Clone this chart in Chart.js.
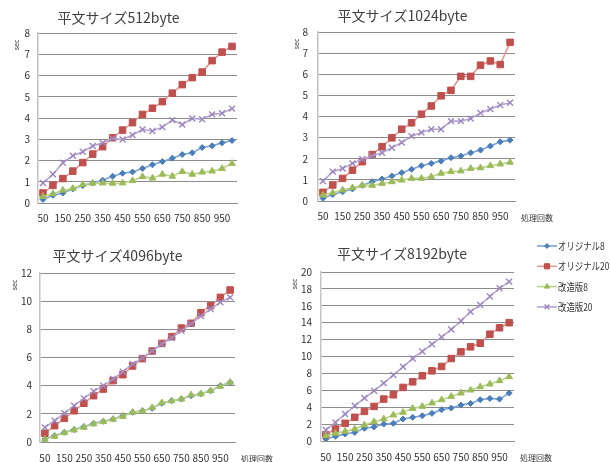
<!DOCTYPE html>
<html>
<head>
<meta charset="utf-8">
<title>平文サイズ別 処理時間</title>
<style>
  body { margin: 0; background: #fff; }
  canvas { position: absolute; }
</style>
<script src="https://cdn.jsdelivr.net/npm/chart.js@4.4.0/dist/chart.umd.min.js"></script>
</head>
<body>
<canvas id="c512" style="left:0px;top:0px" width="300" height="231"></canvas>
<canvas id="c1024" style="left:290px;top:0px" width="320" height="231"></canvas>
<canvas id="c4096" style="left:0px;top:231px" width="300" height="231"></canvas>
<canvas id="c8192" style="left:290px;top:231px" width="320" height="231"></canvas>

<script>
// 処理回数 (x axis)
const counts = [50, 100, 150, 200, 250, 300, 350, 400, 450, 500,
                550, 600, 650, 700, 750, 800, 850, 900, 950, 1000];
const seriesNames = ['オリジナル8', 'オリジナル20', '改造版8', '改造版20'];

// sec, 平文サイズ512byte
const orig8_512  = [0.17, 0.36, 0.47, 0.66, 0.82, 0.94, 1.07, 1.26, 1.40, 1.46, 1.62, 1.80, 1.95, 2.11, 2.28, 2.36, 2.61, 2.69, 2.83, 2.94];
const orig20_512 = [0.47, 0.83, 1.15, 1.50, 1.90, 2.30, 2.65, 3.07, 3.43, 3.78, 4.17, 4.46, 4.77, 5.17, 5.57, 5.90, 6.16, 6.70, 7.10, 7.37];
const kai8_512   = [0.31, 0.44, 0.60, 0.68, 0.87, 0.93, 0.94, 0.93, 0.94, 1.05, 1.24, 1.17, 1.35, 1.26, 1.48, 1.35, 1.45, 1.50, 1.62, 1.86];
const kai20_512  = [0.94, 1.35, 1.89, 2.22, 2.41, 2.68, 2.83, 3.04, 2.99, 3.20, 3.46, 3.39, 3.57, 3.90, 3.69, 3.98, 3.94, 4.17, 4.22, 4.44];

// 平文サイズ1024byte
const orig8_1024  = [0.13, 0.31, 0.44, 0.57, 0.74, 0.91, 1.04, 1.18, 1.34, 1.50, 1.67, 1.78, 1.89, 2.05, 2.13, 2.28, 2.41, 2.60, 2.80, 2.88];
const orig20_1024 = [0.41, 0.76, 1.07, 1.46, 1.86, 2.20, 2.57, 2.99, 3.40, 3.70, 4.11, 4.50, 4.98, 5.24, 5.90, 5.90, 6.43, 6.63, 6.46, 7.51];
const kai8_1024   = [0.28, 0.39, 0.52, 0.63, 0.74, 0.74, 0.83, 0.91, 0.99, 1.07, 1.07, 1.15, 1.31, 1.39, 1.42, 1.54, 1.57, 1.67, 1.75, 1.83];
const kai20_1024  = [0.94, 1.39, 1.54, 1.78, 1.98, 2.14, 2.28, 2.52, 2.77, 3.07, 3.24, 3.40, 3.40, 3.78, 3.78, 3.90, 4.17, 4.35, 4.54, 4.65];

// 平文サイズ4096byte
const orig8_4096  = [0.21, 0.45, 0.69, 0.88, 1.09, 1.33, 1.47, 1.63, 1.87, 2.11, 2.22, 2.39, 2.75, 2.93, 3.05, 3.29, 3.43, 3.64, 4.00, 4.24];
const orig20_4096 = [0.62, 1.16, 1.68, 2.22, 2.75, 3.29, 3.76, 4.36, 4.78, 5.40, 5.92, 6.46, 7.00, 7.48, 8.09, 8.43, 9.18, 9.68, 10.27, 10.79];
const kai8_4096   = [0.19, 0.40, 0.66, 0.85, 1.04, 1.28, 1.44, 1.61, 1.82, 2.11, 2.20, 2.44, 2.79, 2.93, 3.05, 3.34, 3.41, 3.64, 3.95, 4.24];
const kai20_4096  = [1.04, 1.51, 2.04, 2.58, 3.10, 3.60, 4.00, 4.47, 4.99, 5.54, 5.96, 6.46, 6.96, 7.39, 7.90, 8.38, 8.95, 9.44, 9.92, 10.27];

// 平文サイズ8192byte
const orig8_8192  = [0.24, 0.55, 0.83, 1.02, 1.50, 1.65, 2.00, 2.09, 2.60, 2.80, 2.99, 3.27, 3.70, 3.90, 4.25, 4.45, 4.88, 5.04, 4.96, 5.67];
const orig20_8192 = [0.75, 1.42, 2.09, 2.80, 3.50, 4.09, 4.96, 5.47, 6.34, 7.00, 7.72, 8.30, 8.82, 9.76, 10.55, 11.14, 11.57, 12.64, 13.40, 14.00];
const kai8_8192   = [0.63, 0.90, 1.14, 1.42, 1.89, 2.28, 2.60, 3.07, 3.39, 3.86, 4.09, 4.49, 4.88, 5.28, 5.67, 6.02, 6.42, 6.73, 7.13, 7.60];
const kai20_8192  = [1.30, 2.20, 3.19, 4.17, 5.08, 5.94, 6.85, 7.80, 8.78, 9.76, 10.60, 11.46, 12.30, 13.20, 14.20, 15.30, 16.10, 17.10, 18.07, 18.86];

const looks = [
  { style: 'rectRot',  radius: 3,   marker: '#4a7ebb', line: '#7ea3d6' },
  { style: 'rect',     radius: 4.6, marker: '#c0504d', line: '#e39895' },
  { style: 'triangle', radius: 3.8, marker: '#9bbb59', line: '#bcd38a' },
  { style: 'crossRot', radius: 4.2, marker: '#9c85c0', line: '#b6a5cf' }
];

Chart.defaults.font.family = '"Noto Sans CJK JP", "Noto Sans", sans-serif';
Chart.defaults.color = '#333';

// sec / 処理回数 / legend, drawn next to the plot like the spreadsheet did
const axisNotes = {
  id: 'axisNotes',
  afterDraw(chart, args, opts) {
    const ctx = chart.ctx, a = chart.chartArea;
    ctx.save();
    ctx.fillStyle = '#333';
    ctx.font = '7px "Noto Sans", sans-serif';
    ctx.textAlign = 'center';
    ctx.textBaseline = 'middle';
    ctx.translate(a.left - opts.unitDx, a.top + 12);
    ctx.rotate(-Math.PI / 2);
    ctx.fillText('sec', 0, 0);
    ctx.restore();

    if (opts.xName) {
      ctx.save();
      ctx.fillStyle = '#333';
      ctx.font = '8px "Noto Sans CJK JP", sans-serif';
      ctx.textAlign = 'left';
      ctx.textBaseline = 'middle';
      ctx.fillText('処理回数', a.right + 6, a.bottom + 17);
      ctx.restore();
    }

    if (opts.legend) {
      chart.data.datasets.forEach((ds, i) => {
        const y = a.top - 26 + i * 20.3;
        const x0 = a.right + 23;
        ctx.save();
        ctx.strokeStyle = ds.borderColor;
        ctx.lineWidth = 1.6;
        ctx.beginPath();
        ctx.moveTo(x0, y);
        ctx.lineTo(x0 + 20, y);
        ctx.stroke();
        ctx.fillStyle = ds.pointBackgroundColor;
        ctx.strokeStyle = ds.pointBorderColor;
        ctx.lineWidth = ds.pointBorderWidth;
        Chart.helpers.drawPoint(ctx, {
          pointStyle: ds.pointStyle, radius: ds.pointRadius * 0.8,
          rotation: 0, borderWidth: ds.pointBorderWidth
        }, x0 + 10, y);
        // the original legend text is set narrow
        ctx.fillStyle = '#333';
        ctx.font = '10.5px "Noto Sans CJK JP", sans-serif';
        ctx.textBaseline = 'middle';
        ctx.translate(x0 + 21, y);
        ctx.scale(0.8, 1);
        ctx.fillText(ds.label, 0, 0);
        ctx.restore();
      });
    }
  }
};

function makeChart(id, title, series, yMax, yStep, box) {
  const datasets = series.map((vals, i) => ({
    label: seriesNames[i],
    data: vals,
    borderColor: looks[i].line,
    borderWidth: 1.6,
    pointStyle: looks[i].style,
    pointRadius: looks[i].radius,
    pointBackgroundColor: looks[i].marker,
    pointBorderColor: looks[i].marker,
    pointBorderWidth: i === 3 ? 1.4 : 1,
    tension: 0,
    order: 4 - i
  }));
  return new Chart(document.getElementById(id), {
    type: 'line',
    data: { labels: counts, datasets: datasets },
    plugins: [axisNotes],
    options: {
      responsive: false,
      animation: false,
      layout: { padding: { left: 0, top: 0, right: box.padRight, bottom: 0 } },
      plugins: {
        legend: { display: false },
        tooltip: { enabled: false },
        title: {
          display: true,
          text: title,
          color: '#404040',
          font: { size: 14, weight: 'normal' },
          padding: { top: box.titleTop, bottom: box.titleBottom }
        },
        axisNotes: { unitDx: box.unitDx, xName: box.xName, legend: box.legend }
      },
      scales: {
        x: {
          offset: true,
          grid: { display: false, drawTicks: false },
          border: { display: true, color: '#8c8c8c' },
          ticks: {
            autoSkip: false, maxRotation: 0, padding: box.xPad,
            font: { size: 10 },
            callback: (v, i) => (i % 2 === 0 ? counts[i] : '')
          },
          afterFit: s => { s.height = box.xh; }
        },
        y: {
          min: 0, max: yMax,
          grid: { color: '#8c8c8c', drawTicks: false },
          border: { display: true, color: '#c4c4c4', width: 1.5 },
          ticks: { stepSize: yStep, padding: box.yPad, font: { size: 10 } },
          afterFit: s => { s.width = box.yw; }
        }
      }
    }
  });
}

makeChart('c512', '平文サイズ512byte',
  [orig8_512, orig20_512, kai8_512, kai20_512], 8, 1,
  { yw: 38, xh: 28, padRight: 63, titleTop: 9.6, titleBottom: 6.6, xPad: 9, yPad: 8, unitDx: 21, xName: false, legend: false });

makeChart('c1024', '平文サイズ1024byte',
  [orig8_1024, orig20_1024, kai8_1024, kai20_1024], 8, 1,
  { yw: 28, xh: 30, padRight: 95, titleTop: 7.1, titleBottom: 8.1, xPad: 9, yPad: 10, unitDx: 21, xName: true, legend: false });

makeChart('c4096', '平文サイズ4096byte',
  [orig8_4096, orig20_4096, kai8_4096, kai20_4096], 12, 2,
  { yw: 40, xh: 20, padRight: 65, titleTop: 16.6, titleBottom: 8.6, xPad: 10, yPad: 8, unitDx: 25, xName: true, legend: false });

makeChart('c8192', '平文サイズ8192byte',
  [orig8_8192, orig20_8192, kai8_8192, kai20_8192], 20, 2,
  { yw: 31, xh: 21, padRight: 96, titleTop: 14.6, titleBottom: 9.6, xPad: 10, yPad: 9, unitDx: 26, xName: true, legend: true });
</script>
</body>
</html>
